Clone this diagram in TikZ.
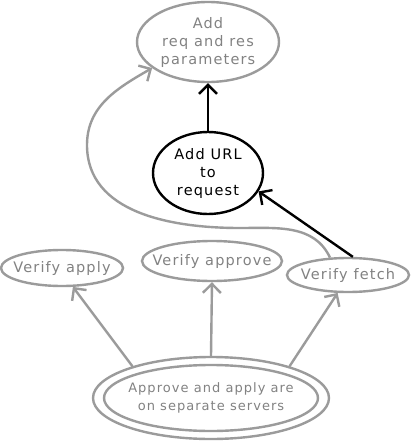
\documentclass[tikz,border=0pt]{standalone}
\usepackage{fontspec}
\setmainfont{DejaVu Sans}[LetterSpace=8]
\usetikzlibrary{shapes.geometric,arrows.meta}
\definecolor{lgray}{RGB}{155,155,155}
\definecolor{tgray}{RGB}{130,130,130}
\tikzset{
  x=1pt,y=-1pt,
  gtext/.style={text=tgray,inner sep=0pt,align=center,font=\fontsize{14.5}{18}\selectfont},
  btext/.style={text=black,inner sep=0pt,align=center,font=\fontsize{14.5}{18}\selectfont},
  stext/.style={text=tgray,inner sep=0pt,align=center,font=\fontsize{13}{18}\selectfont},
  grayell/.style={ellipse,draw=lgray,line width=2.4pt,inner sep=0pt},
  blackell/.style={ellipse,draw=black,line width=2.4pt,inner sep=0pt},
  garrow/.style={draw=lgray,line width=2.4pt,-{Straight Barb[length=9pt,width=18pt,line width=2.4pt]}},
  barrow/.style={draw=black,line width=2.4pt,-{Straight Barb[length=9pt,width=18pt,line width=2.4pt]}}
}
\begin{document}
\begin{tikzpicture}
\useasboundingbox[fill=white] (0,0) rectangle (412,442);
\node[grayell,minimum width=142pt,minimum height=80pt,label={[gtext]center:Add\\req and res\\parameters}] (params) at (208,42) {};
\node[blackell,minimum width=110pt,minimum height=82pt,label={[btext]center:Add URL\\to\\request}] (url) at (208,173) {};
\node[grayell,minimum width=122pt,minimum height=36pt,label={[gtext]center:Verify apply}] (apply) at (62,268) {};
\node[grayell,minimum width=140pt,minimum height=40pt,label={[gtext]center:Verify approve}] (approve) at (212,261) {};
\node[grayell,minimum width=122pt,minimum height=34pt,label={[gtext]center:Verify fetch}] (fetch) at (348,275) {};
\node[grayell,minimum width=236pt,minimum height=82pt] (servers) at (211,398) {};
\node[grayell,minimum width=214pt,minimum height=66pt,label={[stext]center:Approve and apply are\\on separate servers}] (serversin) at (211,398) {};
\coordinate (w1) at (240,228);
\coordinate (w2) at (87,145);
\draw[barrow] (url.north) -- (params.south);
\draw[barrow] (fetch.75) -- (url.-20);
\draw[garrow] (fetch.136) to[out=115,in=0] (w1) to[out=180,in=-90] (w2) to[out=90,in=210] (params.205);
\draw[garrow] (servers.158) -- (apply.-60);
\draw[garrow] (servers.north) -- (approve.south);
\draw[garrow] (servers.22) -- (fetch.-120);
\end{tikzpicture}
\end{document}
